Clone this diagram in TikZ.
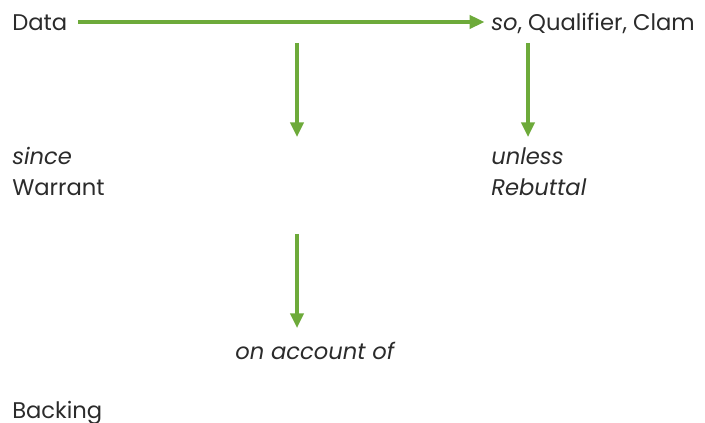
\documentclass[tikz,border=0pt]{standalone}
\usepackage{fontspec}
\setmainfont{Poppins}
\usetikzlibrary{arrows.meta}
\definecolor{argreen}{HTML}{6DAA3A}
\definecolor{argtext}{HTML}{2B2B2B}
\begin{document}
\begin{tikzpicture}[x=0.75pt,y=-0.75pt]
		\tikzstyle{label} = [anchor=base west,inner sep=0pt,text=argtext,font=\fontsize{17}{20}\selectfont]
		\tikzstyle{link} = [draw=argreen,line width=2.3pt,-{Triangle[length=11pt,width=10pt]}]
		\useasboundingbox (0,0) rectangle (705,423);
		\node[label] (data) at (12,31) {Data};
		\node[label] (claim) at (491,31) {\textit{so}, Qualifier, Clam};
		\node[label] (since) at (12,165) {\textit{since}};
		\node[label] (warrant) at (12,196) {Warrant};
		\node[label] (unless) at (491,165) {\textit{unless}};
		\node[label] (rebuttal) at (491,196) {\textit{Rebuttal}};
		\node[label] (account) at (235,359) {\textit{on account of}};
		\node[label] (backing) at (12,418) {Backing};
		\coordinate (w1) at (297,43);
		\coordinate (w2) at (297,137);
		\coordinate (r1) at (528,43);
		\coordinate (r2) at (528,137);
		\coordinate (b1) at (297,234);
		\coordinate (b2) at (297,328);
		\draw[link] ([xshift=8pt]data.east |- 0,22) -- ([xshift=-5pt]claim.west |- 0,22);
		\draw[link] (w1) -- (w2);
		\draw[link] (r1) -- (r2);
		\draw[link] (b1) -- (b2);
	\end{tikzpicture}
\end{document}
